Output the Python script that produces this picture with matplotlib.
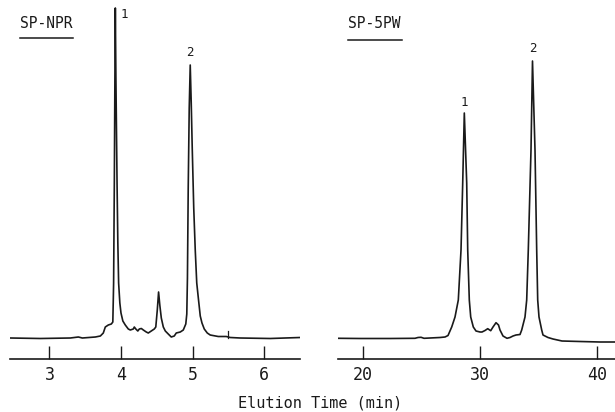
import numpy as np
import matplotlib.pyplot as plt

plt.rcParams['font.family'] = ['DejaVu Sans Mono']

# SP-NPR trace (elution time in min, detector response in arbitrary units)
npr_time = [2.456, 2.874, 3.293, 3.405, 3.460, 3.642, 3.712, 3.753, 3.781, 3.823,
            3.865, 3.886, 3.893, 3.897, 3.907, 3.915, 3.921, 3.929, 3.945, 3.956,
            3.967, 3.984, 4.000, 4.026, 4.060, 4.102, 4.130, 4.172, 4.186, 4.207,
            4.235, 4.256, 4.284, 4.312, 4.353, 4.381, 4.423, 4.465, 4.486, 4.507,
            4.525, 4.542, 4.563, 4.591, 4.619, 4.660, 4.702, 4.744, 4.772, 4.828,
            4.870, 4.905, 4.919, 4.928, 4.939, 4.953, 4.967, 4.981, 4.995, 5.016,
            5.037, 5.058, 5.083, 5.107, 5.131, 5.163, 5.205, 5.246, 5.358, 5.470,
            5.525, 5.665, 6.084, 6.502]
npr_signal = [0, -0.5, 0, 1, 0, 1, 2, 5, 11, 13,
              14, 16, 40, 55, 155, 260, 330, 260, 155, 95,
              55, 35, 25, 17, 13, 9, 8, 9, 11, 9,
              7, 9, 9.5, 8, 6, 5, 7, 9, 11, 28,
              46, 33, 20, 11, 7, 4, 1, 2, 5, 6,
              8, 14, 24, 60, 150, 230, 273, 235, 190, 130,
              88, 55, 38, 22, 15, 9, 5, 3, 1.5, 1.5,
              0.5, 0, -0.5, 0.5]
npr_mark = 5.5

# SP-5PW trace
pw_time = [17.863, 19.744, 22.308, 24.444, 24.701, 24.957, 25.214, 26.581, 27.009, 27.265,
           27.581, 27.863, 28.145, 28.376, 28.521, 28.658, 28.863, 28.949, 29.085, 29.205,
           29.427, 29.658, 30.000, 30.171, 30.427, 30.658, 30.915, 31.111, 31.368, 31.581,
           31.709, 31.966, 32.308, 32.564, 32.821, 33.077, 33.419, 33.564, 33.846, 33.991,
           34.128, 34.359, 34.487, 34.701, 34.846, 34.932, 35.043, 35.274, 35.385, 35.812,
           36.239, 37.009, 38.547, 40.256, 41.538]
pw_signal = [-0.3, -0.5, -0.5, -0.3, 0.5, 0.7, -0.3, 0.5, 1, 2.5,
             11, 21, 38, 88, 155, 225, 155, 88, 38, 21,
             11, 7, 6, 6, 7.5, 9.3, 7.3, 11, 15.3, 13,
             8, 2, -0.3, 0.5, 2, 3, 3.5, 8, 21, 38,
             88, 188, 277, 188, 88, 38, 21, 8, 3, 0.5,
             -1, -3, -3.5, -4, -4]

npr_ticks = [3, 4, 5, 6]
pw_ticks = [20, 30, 40]
npr_peaks = {"1": (3.921, 330), "2": (4.967, 273)}
pw_peaks = {"1": (28.658, 225), "2": (34.487, 277)}

ink = "#1a1a1a"
fig = plt.figure(figsize=(6.15, 4.12), dpi=100)

W, H = 615, 412


def make_ax(x0, x1, xlim, ticks):
    ax = fig.add_axes([x0 / W, 53 / H, (x1 - x0) / W, 359 / H])
    ax.set_xlim(*xlim)
    ax.set_ylim(-21, 338)
    for s in ["top", "left", "right"]:
        ax.spines[s].set_visible(False)
    ax.spines["bottom"].set_color(ink)
    ax.spines["bottom"].set_linewidth(1.2)
    ax.set_yticks([])
    ax.set_xticks(ticks)
    ax.tick_params(axis="x", direction="in", length=9.5, width=1.0,
                   colors=ink, labelsize=12, pad=5)
    ax.patch.set_alpha(0)
    return ax


ax1 = make_ax(10, 300, (2.45, 6.5), npr_ticks)
ax1.plot(npr_time, npr_signal, color=ink, lw=1.2)
ax1.plot([npr_mark, npr_mark], [0.5, 7], color=ink, lw=0.9)
t1, h1 = npr_peaks["1"]
ax1.text(t1 + 0.125, h1 - 6, "1", ha="center", va="center", fontsize=9, color=ink)
t2, h2 = npr_peaks["2"]
ax1.text(t2 - 0.01, h2 + 12, "2", ha="center", va="center", fontsize=9, color=ink)

ax2 = make_ax(338, 615, (17.86, 41.54), pw_ticks)
ax2.plot(pw_time, pw_signal, color=ink, lw=1.2)
t1, h1 = pw_peaks["1"]
ax2.text(t1, h1 + 10, "1", ha="center", va="center", fontsize=9, color=ink)
t2, h2 = pw_peaks["2"]
ax2.text(t2, h2 + 12, "2", ha="center", va="center", fontsize=9, color=ink)

# column names, underlined
fig.text(20 / W, 1 - 23 / H, "SP-NPR", fontsize=10.5, color=ink, va="center", ha="left")
fig.add_artist(plt.Line2D([20 / W, 73 / W], [1 - 38 / H] * 2, color=ink, lw=1.1))
fig.text(348 / W, 1 - 24 / H, "SP-5PW", fontsize=10.5, color=ink, va="center", ha="left")
fig.add_artist(plt.Line2D([348 / W, 402 / W], [1 - 40 / H] * 2, color=ink, lw=1.1))

fig.text(320 / W, 1 - 403 / H, "Elution Time (min)", fontsize=11, color=ink,
         ha="center", va="center")

fig.savefig("out.png", dpi=100)
